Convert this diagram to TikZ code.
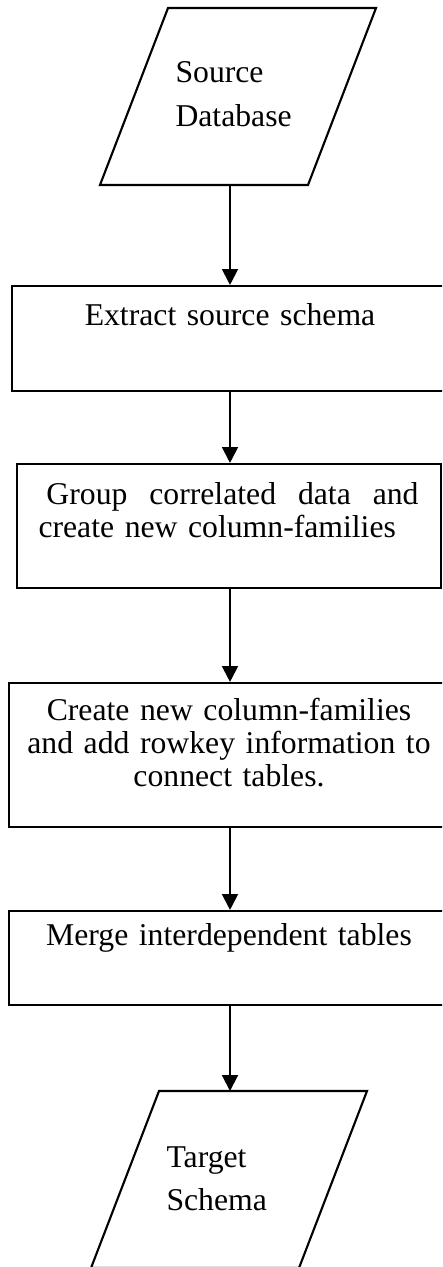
\documentclass[tikz,border=0pt]{standalone}
\usepackage{fontspec}
\setmainfont{Liberation Serif}
\usetikzlibrary{arrows.meta}
\newlength\pxu
\setlength\pxu{0.3785pt}
\begin{document}
\begin{tikzpicture}[
  x=0.3785pt, y=-0.3785pt,
  procbox/.style={draw, line width=0.8pt, rectangle, inner sep=0pt},
  iobox/.style={draw, line width=0.8pt, line join=miter},
  txt/.style={inner sep=0pt, font=\fontsize{12pt}{12.5pt}\selectfont},
  iotxt/.style={txt, font=\fontsize{12pt}{16.3pt}\selectfont, anchor=base west,
    text width=120\pxu, align=left},
  flowarrow/.style={line width=0.8pt, -{Triangle[length=6pt,width=6pt]}}
]
\useasboundingbox (0,0) rectangle (442,1267);
\clip (0,0) rectangle (442,1267);

% input / output parallelograms (slant 68 over a height of 177)
\draw[iobox] (168,8) -- (376,8) -- (308,185) -- (100,185) -- cycle;
\coordinate (srcout) at (230,185);
\draw[iobox] (159,1091) -- (367,1091) -- (299,1268) -- (91,1268) -- cycle;
\coordinate (tgtin) at (230,1091);

% process boxes
\node[procbox, minimum width=436\pxu, minimum height=105\pxu] (b1) at (230,338.5) {};
\node[procbox, minimum width=424\pxu, minimum height=124\pxu] (b2) at (229,526) {};
\node[procbox, minimum width=440\pxu, minimum height=144\pxu] (b3) at (229,755) {};
\node[procbox, minimum width=439\pxu, minimum height=94\pxu] (b4) at (228.5,958) {};

% texts
\node[iotxt] (srct) at (175,83) {Source\\Database};
\node[txt, anchor=base, text width=420\pxu, align=center] (b1t) at (230,325) {Extract source schema};
\node[txt, anchor=base west, text width=380\pxu, align=left] (b2t) at (38,504)
  {\makebox[380\pxu][s]{\hspace*{0.25em}Group\hfill correlated\hfill data\hfill and}\\create new column-families};
\node[txt, anchor=base, text width=420\pxu, align=center] (b3t) at (229,720)
  {Create new column-families\\and add rowkey information to\\connect tables.};
\node[txt, anchor=base, text width=420\pxu, align=center] (b4t) at (229,945) {Merge interdependent tables};
\node[iotxt] (tgtt) at (166,1167) {Target\\Schema};

% connectors
\draw[flowarrow] (srcout) -- (b1.north -| srcout);
\draw[flowarrow] (b1.south -| srcout) -- (b2.north -| srcout);
\draw[flowarrow] (b2.south -| srcout) -- (b3.north -| srcout);
\draw[flowarrow] (b3.south -| srcout) -- (b4.north -| srcout);
\draw[flowarrow] (b4.south -| srcout) -- (tgtin);
\end{tikzpicture}
\end{document}
